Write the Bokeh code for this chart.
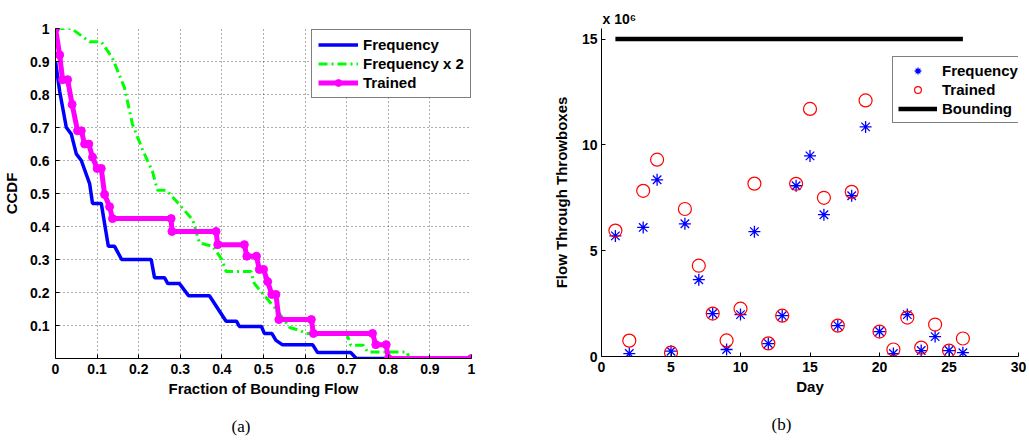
from bokeh.plotting import figure
from bokeh.models import FixedTicker, Legend, LegendItem, Range1d, Title
from bokeh.layouts import row
from bokeh.embed import file_html
from bokeh.resources import INLINE

# ---------------- Panel (a): CCDF of fraction of bounding flow ----------------
freq_x = [0, 0.01, 0.026, 0.038, 0.05, 0.062, 0.082, 0.089, 0.11, 0.127, 0.142, 0.159, 0.23, 0.238,
          0.262, 0.27, 0.298, 0.32, 0.37, 0.41, 0.435, 0.442, 0.495, 0.502, 0.52, 0.53, 0.545,
          0.618, 0.63, 0.71, 0.723, 1.0]
freq_y = [0.9, 0.81, 0.70, 0.68, 0.62, 0.60, 0.53, 0.47, 0.47, 0.34, 0.34, 0.30, 0.30, 0.245,
          0.245, 0.227, 0.227, 0.19, 0.19, 0.113, 0.113, 0.097, 0.097, 0.076, 0.076, 0.055, 0.042,
          0.042, 0.018, 0.018, 0.0, 0.0]

freq2_x = [0, 0.038, 0.082, 0.11, 0.137, 0.166, 0.185, 0.21, 0.233, 0.245, 0.267, 0.298, 0.33,
           0.346, 0.378, 0.40, 0.41, 0.47, 0.478, 0.50, 0.52, 0.53, 0.563, 0.587, 0.603, 0.70,
           0.71, 0.74, 0.75, 0.845, 0.85, 1.0]
freq2_y = [1.0, 1.0, 0.96, 0.96, 0.91, 0.82, 0.71, 0.63, 0.567, 0.51, 0.51, 0.466, 0.42,
           0.35, 0.34, 0.30, 0.264, 0.264, 0.227, 0.194, 0.164, 0.15, 0.094, 0.085, 0.076, 0.076,
           0.04, 0.04, 0.02, 0.02, 0.0, 0.0]

trained_x = [0, 0.01, 0.017, 0.029, 0.04, 0.053, 0.062, 0.07, 0.08, 0.089, 0.10, 0.11, 0.118,
             0.13, 0.137, 0.278, 0.28, 0.386, 0.39, 0.454, 0.46, 0.483, 0.49, 0.50, 0.51, 0.52,
             0.53, 0.537, 0.615, 0.62, 0.762, 0.77, 0.795, 0.80, 1.0]
trained_y = [1.0, 0.92, 0.845, 0.845, 0.77, 0.69, 0.69, 0.65, 0.65, 0.61, 0.576, 0.576, 0.497,
             0.46, 0.424, 0.424, 0.385, 0.385, 0.345, 0.345, 0.31, 0.31, 0.27, 0.27, 0.233, 0.194,
             0.194, 0.118, 0.118, 0.076, 0.076, 0.042, 0.042, 0.0, 0.0]

a_xticks = [0, 0.1, 0.2, 0.3, 0.4, 0.5, 0.6, 0.7, 0.8, 0.9, 1]
a_xtick_labels = ["0", "0.1", "0.2", "0.3", "0.4", "0.5", "0.6", "0.7", "0.8", "0.9", "1"]
a_yticks = [0.1, 0.2, 0.3, 0.4, 0.5, 0.6, 0.7, 0.8, 0.9, 1]
a_ytick_labels = ["0.1", "0.2", "0.3", "0.4", "0.5", "0.6", "0.7", "0.8", "0.9", "1"]

# ---------------- Panel (b): flow per day (x 10^6) ----------------
days = [1, 2, 3, 4, 5, 6, 7, 8, 9, 10, 11, 12, 13, 14, 15, 16, 17, 18, 19, 20, 21, 22, 23, 24, 25, 26]
flow_frequency = [5.7, 0.14, 6.1, 8.35, 0.25, 6.27, 3.63, 2.03, 0.33, 1.98, 5.9, 0.61, 1.93, 8.07,
                  9.48, 6.7, 1.46, 7.6, 10.85, 1.18, 0.14, 1.98, 0.28, 0.94, 0.28, 0.18]
flow_trained = [5.95, 0.75, 7.83, 9.3, 0.18, 6.97, 4.29, 2.03, 0.76, 2.26, 8.17, 0.62, 1.93, 8.16,
                11.7, 7.5, 1.46, 7.78, 12.1, 1.18, 0.33, 1.84, 0.42, 1.51, 0.28, 0.85]
bound_days = [1, 26]
bound_flow = [15, 15]

b_xticks = [0, 5, 10, 15, 20, 25, 30]
b_xtick_labels = ["0", "5", "10", "15", "20", "25", "30"]
b_yticks = [0, 5, 10, 15]
b_ytick_labels = ["0", "5", "10", "15"]

FONT = "Liberation Sans"
SERIF = "Liberation Serif"


def style_axes(p, xticks, xlabels, yticks, ylabels):
    p.xaxis[0].ticker = FixedTicker(ticks=xticks)
    p.yaxis[0].ticker = FixedTicker(ticks=yticks)
    p.xaxis[0].major_label_overrides = dict(zip(xticks, xlabels))
    p.yaxis[0].major_label_overrides = dict(zip(yticks, ylabels))
    for ax in (p.xaxis[0], p.yaxis[0]):
        ax.axis_line_color = "black"
        ax.axis_line_width = 1
        ax.major_tick_line_color = "black"
        ax.major_tick_in = 4
        ax.major_tick_out = 0
        ax.minor_tick_line_color = None
        ax.major_label_text_font = FONT
        ax.major_label_text_font_style = "bold"
        ax.major_label_text_font_size = "14px"
        ax.major_label_text_color = "black"
        ax.axis_label_text_font = FONT
        ax.axis_label_text_font_style = "bold"
        ax.axis_label_text_font_size = "15px"
        ax.axis_label_text_color = "black"
    p.xaxis[0].major_label_standoff = 5
    p.yaxis[0].major_label_standoff = 6
    p.xaxis[0].axis_label_standoff = 3
    p.yaxis[0].axis_label_standoff = 7


def style_legend(leg):
    leg.border_line_color = "black"
    leg.border_line_width = 1.5
    leg.background_fill_color = "white"
    leg.background_fill_alpha = 1
    leg.padding = 6
    leg.spacing = 2
    leg.margin = 0
    leg.glyph_width = 40
    leg.glyph_height = 17
    leg.label_height = 17
    leg.label_standoff = 5
    leg.label_text_font = FONT
    leg.label_text_font_style = "bold"
    leg.label_text_font_size = "15px"
    leg.label_text_color = "black"


def caption(text, offset):
    return Title(text=text, align="left", offset=offset, standoff=30,
                 text_font=SERIF, text_font_style="normal", text_font_size="17px",
                 text_color="black")


# ---- figure (a)
p1 = figure(frame_width=416, frame_height=330, min_border_left=48, min_border_right=36,
            min_border_top=26, min_border_bottom=84,
            x_range=Range1d(0, 1), y_range=Range1d(0, 1),
            output_backend="svg", toolbar_location=None)
p1.outline_line_color = None
p1.xaxis.axis_label = "Fraction of Bounding Flow"
p1.yaxis.axis_label = "CCDF"
style_axes(p1, a_xticks, a_xtick_labels, a_yticks, a_ytick_labels)
for g in (p1.xgrid[0], p1.ygrid[0]):
    g.grid_line_color = "#333333"
    g.grid_line_width = 1
    g.grid_line_dash = "1 3"
    g.grid_line_alpha = 0.8

l_freq = p1.line(freq_x, freq_y, line_color="#0000ff", line_width=3.5)
l_freq2 = p1.line(freq2_x, freq2_y, line_color="#00ff00", line_width=3, line_dash="9 4 2 4")
l_tr = p1.line(trained_x, trained_y, line_color="#ff00ff", line_width=5)
s_tr = p1.scatter(trained_x, trained_y, marker="circle", size=8, fill_color="#ff00ff",
                  line_color="#ff00ff")

leg1 = Legend(items=[LegendItem(label="Frequency", renderers=[l_freq]),
                     LegendItem(label="Frequency x 2", renderers=[l_freq2]),
                     LegendItem(label="Trained", renderers=[l_tr, s_tr])],
              location=(256, 260))
style_legend(leg1)
p1.add_layout(leg1)
p1.add_layout(caption("(a)", 176), "below")

# ---- figure (b)
p2 = figure(frame_width=417, frame_height=328, min_border_left=94, min_border_right=8,
            min_border_top=28, min_border_bottom=84,
            x_range=Range1d(0, 30), y_range=Range1d(0, 15.5),
            output_backend="svg", toolbar_location=None)
p2.outline_line_color = None
p2.xgrid.visible = False
p2.ygrid.visible = False
p2.xaxis.axis_label = "Day"
p2.yaxis.axis_label = "Flow Through Throwboxes"
style_axes(p2, b_xticks, b_xtick_labels, b_yticks, b_ytick_labels)
p2.yaxis[0].major_label_standoff = 4
p2.yaxis[0].axis_label_standoff = 9

r_b = p2.line(bound_days, bound_flow, line_color="black", line_width=4.5)
r_f = p2.scatter(days, flow_frequency, marker="asterisk", size=12, line_color="#0000ff",
                 line_width=1.3)
r_t = p2.scatter(days, flow_trained, marker="circle", size=13, fill_color=None,
                 line_color="#ff0000", line_width=1.2)

leg2 = Legend(items=[LegendItem(label="Frequency", renderers=[r_f]),
                     LegendItem(label="Trained", renderers=[r_t]),
                     LegendItem(label="Bounding", renderers=[r_b])],
              location=(291, 233))
style_legend(leg2)
leg2.padding = 5
leg2.glyph_width = 39
p2.add_layout(leg2)

p2.add_layout(Title(text="x 10\u2076", align="left", offset=1, standoff=4,
                    text_font=FONT, text_font_style="bold", text_font_size="14px",
                    text_color="black"), "above")
p2.add_layout(caption("(b)", 170), "below")

layout = row(p1, p2)
open("out.html", "w").write(file_html(layout, INLINE))
